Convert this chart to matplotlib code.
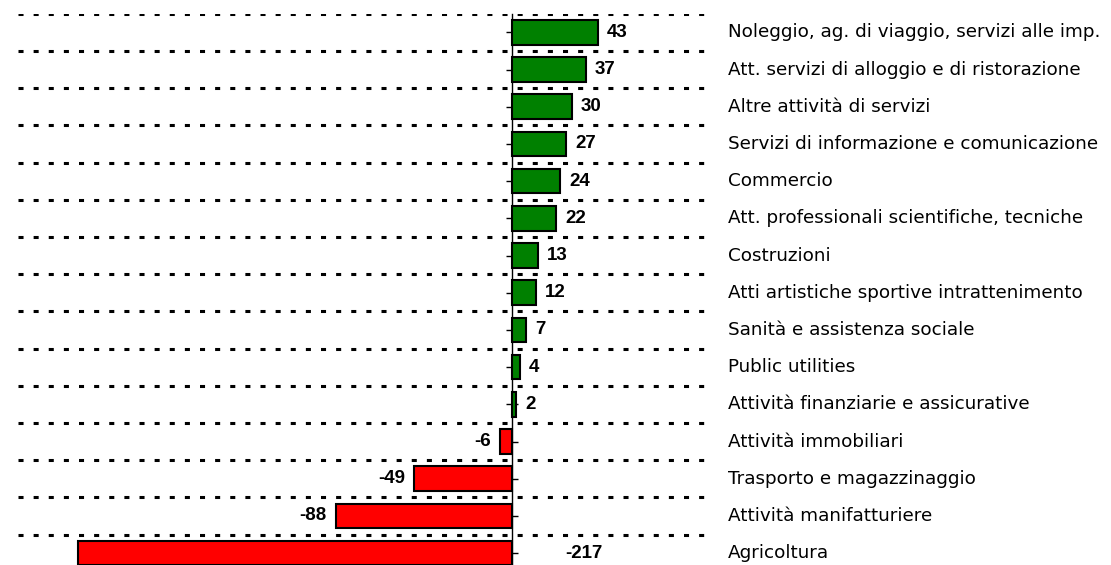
import matplotlib
matplotlib.use("Agg")
import matplotlib.pyplot as plt

# dati: saldo per settore
settori = [
    "Noleggio, ag. di viaggio, servizi alle imp.",
    "Att. servizi di alloggio e di ristorazione",
    "Altre attività di servizi",
    "Servizi di informazione e comunicazione",
    "Commercio",
    "Att. professionali scientifiche, tecniche",
    "Costruzioni",
    "Atti artistiche sportive intrattenimento",
    "Sanità e assistenza sociale",
    "Public utilities",
    "Attività finanziarie e assicurative",
    "Attività immobiliari",
    "Trasporto e magazzinaggio",
    "Attività manifatturiere",
    "Agricoltura",
]
valori = [43, 37, 30, 27, 24, 22, 13, 12, 7, 4, 2, -6, -49, -88, -217]

plt.rcParams["font.family"] = ["DejaVu Sans"]

W, H = 1111, 565
fig = plt.figure(figsize=(W / 100, H / 100), dpi=100)
# assi: da 18 a 712 px in orizzontale, 15 righe da 37.2 px partendo da 13.7 px
top = 1 - 13.7 / H
alt = 15 * 37.2 / H
ax = fig.add_axes([18 / W, top - alt, (712 - 18) / W, alt])

y = list(range(len(valori)))
colori = ["#008000" if v >= 0 else "#ff0000" for v in valori]
ax.barh(y, valori, height=0.66, color=colori, edgecolor="black", linewidth=1.5, zorder=3)

ax.set_xlim(-247, 100)
ax.set_ylim(len(valori) - 0.5, -0.5)

# linee tratteggiate tra le barre
for k in range(-1, len(valori)):
    ax.axhline(k + 0.5, color="black", linewidth=2.2, dashes=(1.65, 3.3), zorder=1)

# asse verticale sullo zero
for s in ["top", "right", "bottom"]:
    ax.spines[s].set_visible(False)
ax.spines["left"].set_position(("data", 0))
ax.spines["left"].set_linewidth(1.0)
ax.spines["left"].set_zorder(2)
ax.set_xticks([])
ax.set_yticks(y)
ax.set_yticklabels([])
ax.tick_params(axis="y", direction="inout", length=8, width=1.0, zorder=2)

# etichette valori
font_val = dict(fontsize=13.5, fontweight="bold", family=["Liberation Sans", "DejaVu Sans"])
for i, v in enumerate(valori):
    if v >= 0:
        ax.text(v + 4.5, i, str(v), ha="left", va="center", **font_val)
    elif v < -200:
        ax.text(26.5, i, str(v), ha="left", va="center", **font_val)
    else:
        ax.text(v - 4.5, i, str(v), ha="right", va="center", **font_val)

# nomi dei settori a destra
for i, s in enumerate(settori):
    ax.text(108, i, s, ha="left", va="center", fontsize=13.2, clip_on=False)

fig.savefig("out.png", dpi=100)
